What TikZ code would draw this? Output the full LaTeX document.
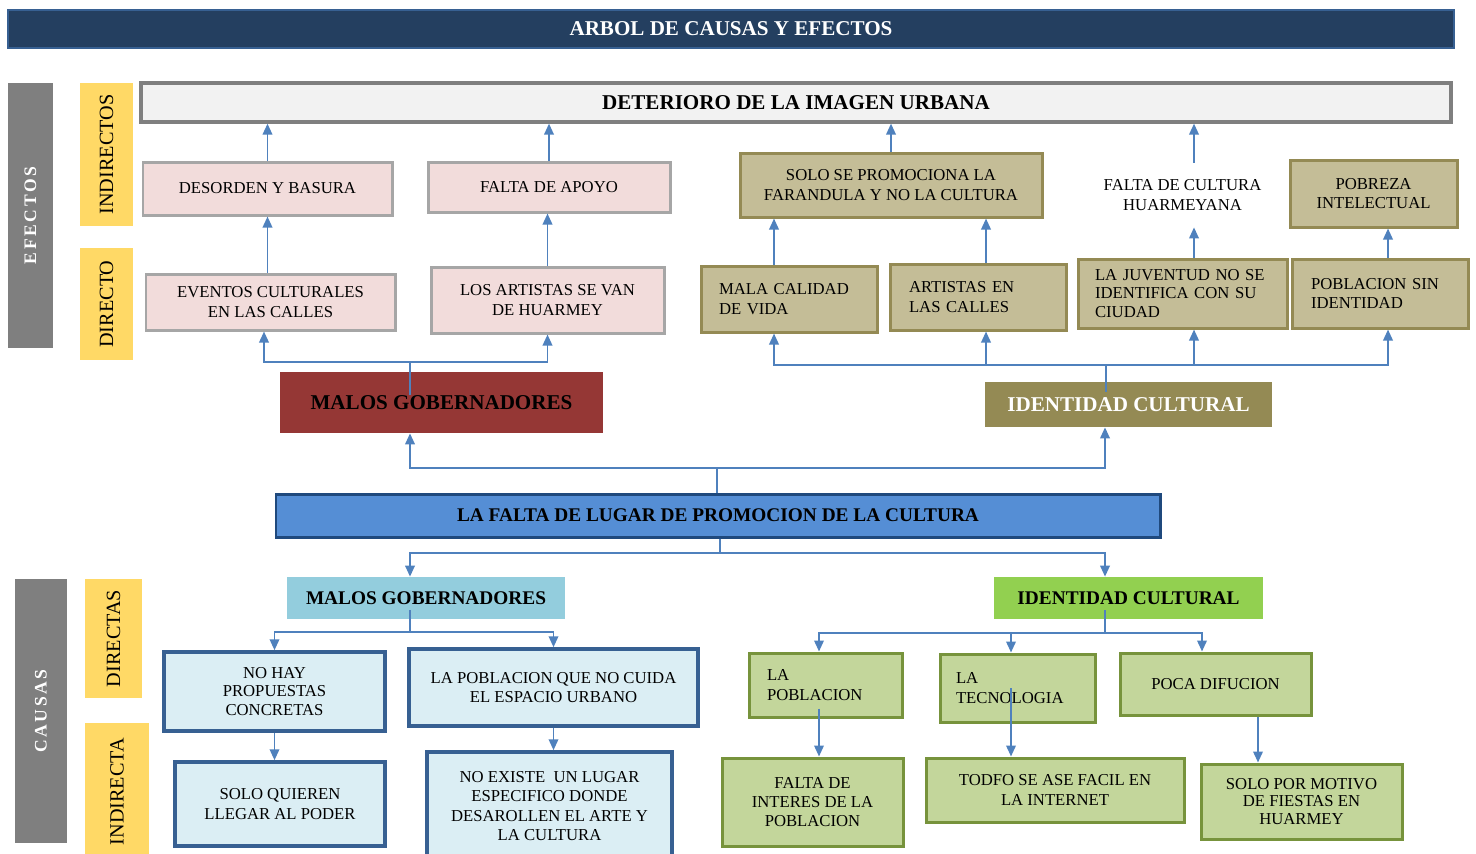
\documentclass[tikz,border=0pt]{standalone}
\usepackage{fontspec}
\setmainfont{Liberation Serif}
\usetikzlibrary{arrows.meta}

\definecolor{flecha}{HTML}{4F81BD}
\definecolor{marino}{HTML}{243F60}
\definecolor{grisF}{HTML}{7F7F7F}
\definecolor{amarF}{HTML}{FFD966}
\definecolor{rosaF}{HTML}{F2DCDB}
\definecolor{rosaB}{HTML}{A6A6A6}
\definecolor{rojoF}{HTML}{953735}
\definecolor{caquiF}{HTML}{C4BD97}
\definecolor{caquiB}{HTML}{948A54}
\definecolor{azulF}{HTML}{558ED5}
\definecolor{azulB}{HTML}{1F497D}
\definecolor{celesteF}{HTML}{93CDDD}
\definecolor{palidoF}{HTML}{DBEEF4}
\definecolor{palidoB}{HTML}{376092}
\definecolor{verdeF}{HTML}{92D050}
\definecolor{vclaroF}{HTML}{C3D69B}
\definecolor{vclaroB}{HTML}{77933C}

\tikzset{
  arr/.style={draw=flecha, line width=1.1pt, -{Triangle[length=2.2mm,width=1.9mm]}},
  lin/.style={draw=flecha, line width=1.1pt},
  wh/.style 2 args={minimum width=#1*0.02cm, minimum height=#2*0.02cm},
  caja/.style={inner sep=0pt, align=center, font=\fontsize{9.5}{11}\selectfont},
  grande/.style={inner sep=0pt, align=center, font=\fontsize{12}{14}\selectfont\bfseries},
  izq/.style={align=left},
  titulo/.style={grande, fill=marino, draw=palidoB, line width=0.6pt, text=white},
  gris/.style={inner sep=0pt, fill=grisF, text=white, font=\fontsize{10}{12}\selectfont\bfseries\addfontfeature{LetterSpace=15}},
  amar/.style={inner sep=0pt, fill=amarF, font=\fontsize{11.5}{13}\selectfont},
  deter/.style={grande, fill=black!5, draw=grisF, line width=1.8pt},
  rosa/.style={caja, fill=rosaF, draw=rosaB, line width=1.7pt},
  rojo/.style={grande, fill=rojoF},
  caqui/.style={caja, fill=caquiF, draw=caquiB, line width=1.7pt},
  oliva/.style={grande, fill=caquiB, text=white},
  azul/.style={inner sep=0pt, align=center, font=\fontsize{11}{13}\selectfont\bfseries, fill=azulF, draw=azulB, line width=1.7pt},
  celeste/.style={inner sep=0pt, font=\fontsize{11}{13}\selectfont\bfseries, fill=celesteF},
  verde/.style={inner sep=0pt, font=\fontsize{11}{13}\selectfont\bfseries, fill=verdeF},
  palido/.style={caja, fill=palidoF, draw=palidoB, line width=2pt},
  vclaro/.style={caja, fill=vclaroF, draw=vclaroB, line width=1.7pt}
}

\begin{document}
\begin{tikzpicture}[x=0.02cm, y=-0.02cm]
    \useasboundingbox (0,0) rectangle (1476,853);

    % titulo y rotulos
    \node[titulo, wh={1446}{38}] (tit) at (731,29) {\raisebox{-2pt}{ARBOL DE CAUSAS Y EFECTOS}};
    \node[gris, rotate=90, wh={265}{45}] (efe) at (30.5,215.5) {EFECTOS};
    \node[amar, rotate=90, wh={143}{53}] (ind) at (106.5,154.5) {INDIRECTOS};
    \node[amar, rotate=90, wh={112}{53}] (dir) at (106.5,304) {DIRECTO};
    \node[gris, rotate=90, wh={264}{52}] (cau) at (41,711) {CAUSAS};
    \node[amar, rotate=90, wh={119}{57}] (dts) at (113.5,638.5) {DIRECTAS};
    \node[amar, rotate=90, wh={137}{64}] (ita) at (117,791.5) {INDIRECTA};

    % efectos
    \node[deter, wh={1310}{39}] (det) at (796,102.5) {DETERIORO DE LA IMAGEN URBANA};
    \node[rosa, wh={249}{53}] (des) at (267.5,188.5) {DESORDEN Y BASURA};
    \node[rosa, wh={242}{50}] (fap) at (549,187) {FALTA DE APOYO};
    \node[rosa, wh={249}{56}] (eve) at (270.5,302) {EVENTOS CULTURALES\\EN LAS CALLES};
    \node[rosa, wh={233}{66}] (art) at (547.5,300) {LOS ARTISTAS SE VAN\\DE HUARMEY};
    \node[rojo, wh={323}{61}] (mgo) at (441.5,402.5) {MALOS GOBERNADORES};

    \node[caqui, wh={302}{64}] (sol) at (891,185) {SOLO SE PROMOCIONA LA\\FARANDULA Y NO LA CULTURA};
    \node[caja, wh={180}{64}] (fcu) at (1182.5,195) {FALTA DE CULTURA\\HUARMEYANA};
    \node[caqui, wh={167}{67}] (pob) at (1373.5,193.5) {POBREZA\\INTELECTUAL};
    \node[caqui, izq, wh={176}{66}, text width=2.8cm] (mal) at (789,299) {MALA CALIDAD\\DE VIDA};
    \node[caqui, izq, wh={176}{66}, text width=2.76cm] (aen) at (978,297) {ARTISTAS EN\\LAS CALLES};
    \node[caqui, izq, wh={209}{69}, text width=3.5cm, font=\fontsize{9.5}{10.5}\selectfont] (juv) at (1182.5,293.5) {LA JUVENTUD NO SE\\IDENTIFICA CON SU\\CIUDAD};
    \node[caqui, izq, wh={176}{69}, text width=2.76cm] (psi) at (1380,293.5) {POBLACION SIN\\IDENTIDAD};
    \node[oliva, wh={287}{45}] (ide) at (1128.5,404.5) {IDENTIDAD CULTURAL};

    % problema central
    \node[azul, wh={884}{43}] (lfa) at (718,515.5) {LA FALTA DE LUGAR DE PROMOCION DE LA CULTURA};

    % causas
    \node[celeste, wh={278}{42}] (mgc) at (426,598) {MALOS GOBERNADORES};
    \node[verde, wh={269}{42}] (idc) at (1128.5,598) {IDENTIDAD CULTURAL};
    \node[palido, wh={221}{79}, font=\fontsize{9.5}{10.5}\selectfont] (nhp) at (274.5,691.5) {NO HAY\\PROPUESTAS\\CONCRETAS};
    \node[palido, wh={289}{77}] (lpq) at (553.5,687.5) {LA POBLACION QUE NO CUIDA\\EL ESPACIO URBANO};
    \node[palido, wh={210}{84}] (sqr) at (280,804) {SOLO QUIEREN\\LLEGAR AL PODER};
    \node[palido, wh={245}{108}] (nex) at (549.5,806) {NO EXISTE\ \ UN LUGAR\\ESPECIFICO DONDE\\DESAROLLEN EL ARTE Y\\LA CULTURA};
    \node[vclaro, izq, wh={153}{64}, text width=2.34cm] (lpo) at (825.5,685) {LA\\POBLACION};
    \node[vclaro, izq, wh={155}{68}, text width=2.46cm] (lte) at (1017.5,688) {LA\\TECNOLOGIA};
    \node[vclaro, wh={191}{62}] (pdi) at (1215.5,684) {POCA DIFUCION};
    \node[vclaro, wh={181}{88}] (fin) at (812.5,802) {FALTA DE\\INTERES DE LA\\POBLACION};
    \node[vclaro, wh={258}{64}] (tod) at (1055,790) {TODFO SE ASE FACIL EN\\LA INTERNET};
    \node[vclaro, wh={201}{75}, font=\fontsize{9.5}{10}\selectfont] (smo) at (1301.5,801.5) {SOLO POR MOTIVO\\DE FIESTAS EN\\HUARMEY};

    % puntos de union
    \coordinate (cL) at (410,0);
    \coordinate (cR) at (1105,0);
    \coordinate (j1) at (410,362);
    \coordinate (j2) at (1106,365);
    \coordinate (jt) at (717,468);
    \coordinate (jb) at (720,553);
    \coordinate (jc) at (410,632);
    \coordinate (jd) at (1105,633);
    % columnas de las flechas
    \coordinate (xe) at (264,0);
    \coordinate (xm) at (774,0);
    \coordinate (xa) at (986,0);
    \coordinate (xj) at (1194,0);
    \coordinate (xp) at (1388,0);
    \coordinate (xl) at (819,0);
    \coordinate (xt) at (1011,0);
    \coordinate (xd) at (1202,0);
    \coordinate (xs) at (1258,0);

    % flechas de efectos
    \draw[arr] (des.north) -- (des.north |- det.south);
    \draw[arr] (fap.north) -- (fap.north |- det.south);
    \draw[arr] (sol.north) -- (sol.north |- det.south);
    \draw[arr] (fcu.north -| xj) -- (xj |- det.south);
    \draw[arr] (eve.north -| des) -- (des.south);
    \draw[arr] (art.north) -- (art.north |- fap.south);
    \draw[arr] (mal.north -| xm) -- (xm |- sol.south);
    \draw[arr] (aen.north -| xa) -- (xa |- sol.south);
    \draw[arr] (juv.north -| xj) -- (xj |- fcu.south);
    \draw[arr] (psi.north -| xp) -- (xp |- pob.south);
    \draw[lin] ([yshift=0.15cm]j1 |- mgo.center) -- (j1);
    \draw[arr] (j1) -| (eve.south -| xe);
    \draw[arr] (j1) -| (art.south);
    \draw[lin] ([yshift=-0.2cm]j2 |- ide.north) -- (j2);
    \draw[arr] (j2) -| (mal.south -| xm);
    \draw[arr] (j2) -| (aen.south -| xa);
    \draw[arr] (j2) -| (juv.south -| xj);
    \draw[arr] (j2) -| (psi.south -| xp);

    % flechas del problema central
    \draw[lin] (lfa.north -| jt) -- (jt);
    \draw[arr] (jt) -| (mgo.south -| cL);
    \draw[arr] (jt) -| (ide.south -| cR);
    \draw[lin] (lfa.south -| jb) -- (jb);
    \draw[arr] (jb) -| (mgc.north -| cL);
    \draw[arr] (jb) -| (idc.north -| cR);

    % flechas de causas
    \draw[lin] ([yshift=0.18cm]mgc.south -| jc) -- (jc);
    \draw[arr] (jc) -| (nhp.north);
    \draw[arr] (jc) -| (lpq.north);
    \draw[arr] (nhp.south) -- (nhp.south |- sqr.north);
    \draw[arr] (lpq.south) -- (lpq.south |- nex.north);
    \draw[lin] ([yshift=0.18cm]idc.south -| jd) -- (jd);
    \draw[arr] (jd) -| (lpo.north -| xl);
    \draw[arr] (jd) -| (lte.north -| xt);
    \draw[arr] (jd) -| (pdi.north -| xd);
    \draw[arr] ([yshift=0.2cm]lpo.south -| xl) -- (xl |- fin.north);
    \draw[arr] (lte.center -| xt) -- (xt |- tod.north);
    \draw[arr] (pdi.south -| xs) -- (xs |- smo.north);
\end{tikzpicture}
\end{document}
